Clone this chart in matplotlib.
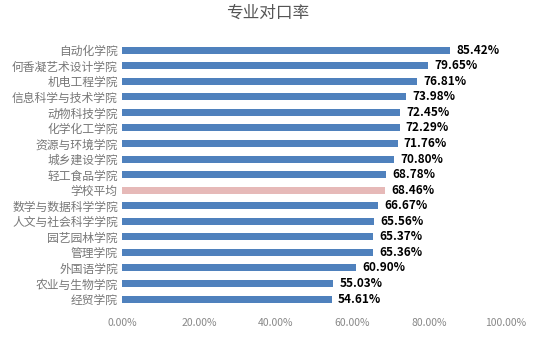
import matplotlib
matplotlib.use('Agg')
import numpy as np
import matplotlib.pyplot as plt

plt.rcParams['font.family'] = ['Noto Sans CJK SC', 'DejaVu Sans']

colleges = ['自动化学院', '何香凝艺术设计学院', '机电工程学院', '信息科学与技术学院',
            '动物科技学院', '化学化工学院', '资源与环境学院', '城乡建设学院',
            '轻工食品学院', '学校平均', '数学与数据科学学院', '人文与社会科学学院',
            '园艺园林学院', '管理学院', '外国语学院', '农业与生物学院', '经贸学院']
rates = [85.42, 79.65, 76.81, 73.98, 72.45, 72.29, 71.76, 70.80,
         68.78, 68.46, 66.67, 65.56, 65.37, 65.36, 60.90, 55.03, 54.61]
xticks = [0, 20, 40, 60, 80, 100]

fig = plt.figure(figsize=(5.35, 3.39), dpi=100)
ax = fig.add_axes([0.228, 0.095, 0.718, 0.78])

y = np.arange(len(colleges))
colors = ['#E6B9B8' if c == '学校平均' else '#4F81BD' for c in colleges]
ax.barh(y, rates, height=0.45, color=colors)

for yi, v in zip(y, rates):
    ax.text(v + 1.6, yi, '%.2f%%' % v, va='center', ha='left',
            fontsize=8.5, fontweight='bold', color='black')

ax.set_ylim(len(colleges) - 0.5, -0.5)
ax.set_xlim(0, 100)
ax.set_yticks(y)
ax.set_yticklabels(colleges, fontsize=8.5, color='#777777')
ax.set_xticks(xticks)
ax.set_xticklabels(['%.2f%%' % t for t in xticks], fontsize=7.5, color='#888888')
ax.tick_params(length=0, pad=3)
ax.tick_params(axis='x', pad=8)
for s in ax.spines.values():
    s.set_visible(False)

fig.text(0.5, 0.962, '专业对口率', ha='center', va='center', fontsize=12, color='#555555')

fig.savefig('out.png', dpi=100)
